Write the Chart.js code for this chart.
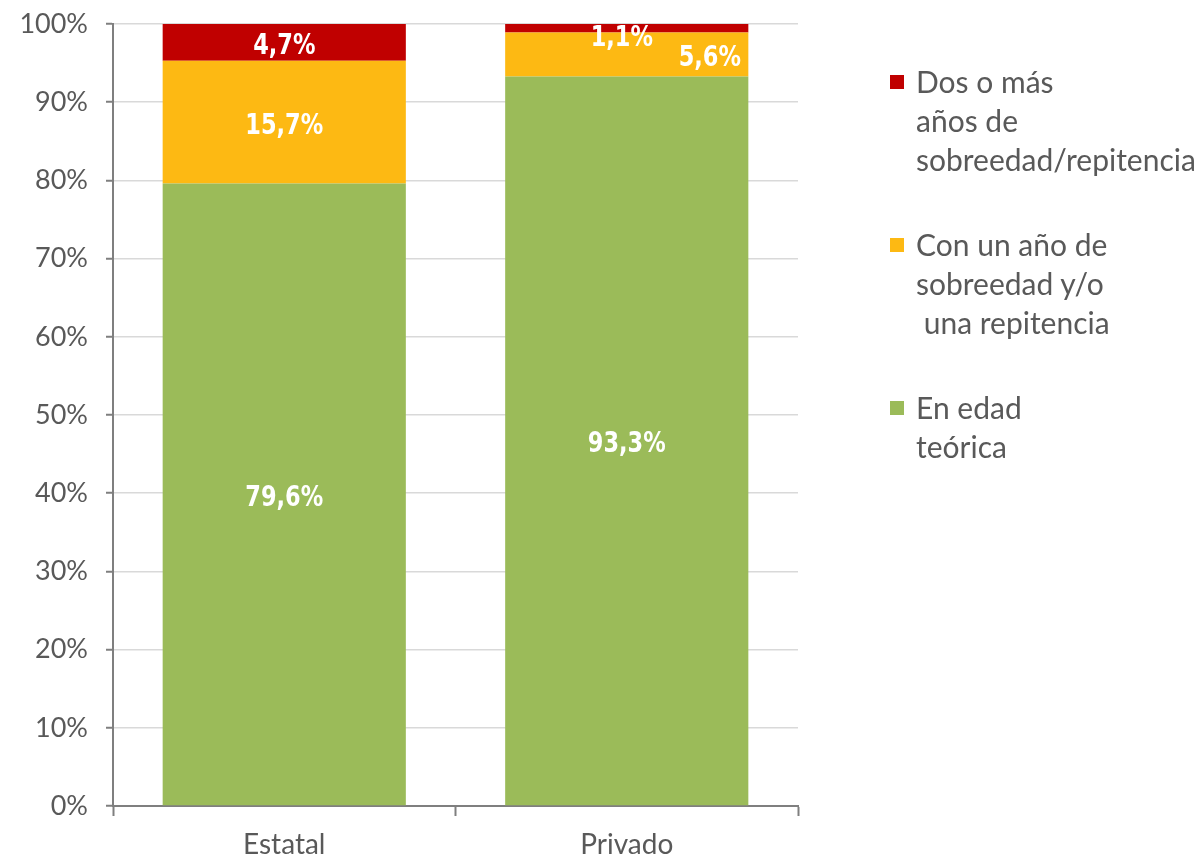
<!DOCTYPE html>
<html>
<head>
<meta charset="utf-8">
<script src="https://cdn.jsdelivr.net/npm/chart.js@4.4.1/dist/chart.umd.min.js"></script>
<style>
  html, body { margin: 0; padding: 0; background: #fff; }
  #wrap { position: relative; width: 1201px; height: 861px; }
  #legend { position: absolute; left: 888px; top: 62px; font-family: Lato, "Open Sans", sans-serif; font-size: 30px; color: #595959; line-height: 39px; }
  .item { position: relative; padding-left: 28px; margin-bottom: 46px; white-space: pre; }
  .box { position: absolute; left: 2px; top: 13px; width: 14px; height: 14px; }
</style>
</head>
<body>
<div id="wrap">
  <canvas id="chart" width="1201" height="861"></canvas>
  <div id="legend"></div>
</div>
<script>
const categories = ['Estatal', 'Privado'];
const enEdad = [79.6, 93.3];
const unAnio = [15.7, 5.6];
const dosOMas = [4.7, 1.1];
const yTicks = [0, 10, 20, 30, 40, 50, 60, 70, 80, 90, 100];

const seriesNames = ['En edad\nteórica', 'Con un año de\nsobreedad y/o\n una repitencia', 'Dos o más\naños de\nsobreedad/repitencia'];
const seriesColors = ['#9BBB59', '#FDB913', '#C00000'];

// small nudges for labels that don't fit in thin segments
const labelNudge = { '2-1': [-5, 6], '1-1': [83, 0] };

const fmt = v => v.toFixed(1).replace('.', ',') + '%';

const barLabels = {
    id: 'barLabels',
    afterDatasetsDraw(chart) {
        const ctx = chart.ctx;
        const squeeze = 0.86;
        ctx.save();
        ctx.fillStyle = '#fff';
        ctx.font = 'bold 29px "DejaVu Sans Condensed", sans-serif';
        ctx.textAlign = 'center';
        ctx.textBaseline = 'middle';
        chart.data.datasets.forEach((ds, di) => {
            chart.getDatasetMeta(di).data.forEach((bar, i) => {
                const nudge = labelNudge[di + '-' + i] || [0, 0];
                const y = (bar.y + bar.base) / 2 + 4;
                ctx.save();
                ctx.translate(bar.x + nudge[0], y + nudge[1]);
                ctx.scale(squeeze, 1);
                ctx.fillText(fmt(ds.data[i]), 0, 0);
                ctx.restore();
            });
        });
        ctx.restore();
    }
};

new Chart(document.getElementById('chart'), {
    type: 'bar',
    data: {
        labels: categories,
        datasets: [
            { label: seriesNames[0], data: enEdad, backgroundColor: seriesColors[0] },
            { label: seriesNames[1], data: unAnio, backgroundColor: seriesColors[1] },
            { label: seriesNames[2], data: dosOMas, backgroundColor: seriesColors[2] },
        ],
    },
    options: {
        responsive: false,
        animation: false,
        layout: { padding: { top: 24, right: 403, left: 0, bottom: 0 } },
        datasets: { bar: { categoryPercentage: 0.71, barPercentage: 1 } },
        plugins: { legend: { display: false }, tooltip: { enabled: false } },
        scales: {
            x: {
                stacked: true,
                border: { color: '#7F7F7F', width: 2 },
                grid: { offset: true, drawOnChartArea: false, tickLength: 10, tickColor: '#7F7F7F', tickWidth: 2 },
                ticks: { color: '#595959', font: { family: 'Lato', size: 28 }, padding: 12 },
                afterFit: s => { s.height = 55; s.paddingLeft = 0; s.paddingRight = 0; },
            },
            y: {
                stacked: true,
                min: 0,
                max: 100,
                border: { color: '#7F7F7F', width: 2 },
                grid: { color: '#D9D9D9', lineWidth: 1.5, tickLength: 7, tickColor: '#7F7F7F', tickWidth: 2 },
                afterBuildTicks: s => { s.ticks = yTicks.map(v => ({ value: v })); },
                ticks: { color: '#595959', font: { family: 'Lato', size: 27 }, padding: 18, callback: v => v + '%' },
                afterFit: s => { s.width = 113; s.paddingTop = 0; s.paddingBottom = 0; },
            },
        },
    },
    plugins: [barLabels],
});

// legend, top to bottom reversed like the stack
const legend = document.getElementById('legend');
for (let i = seriesNames.length - 1; i >= 0; i--) {
    const item = document.createElement('div');
    item.className = 'item';
    item.innerHTML = '<span class="box" style="background:' + seriesColors[i] + '"></span>';
    item.appendChild(document.createTextNode(seriesNames[i]));
    legend.appendChild(item);
}
</script>
</body>
</html>
